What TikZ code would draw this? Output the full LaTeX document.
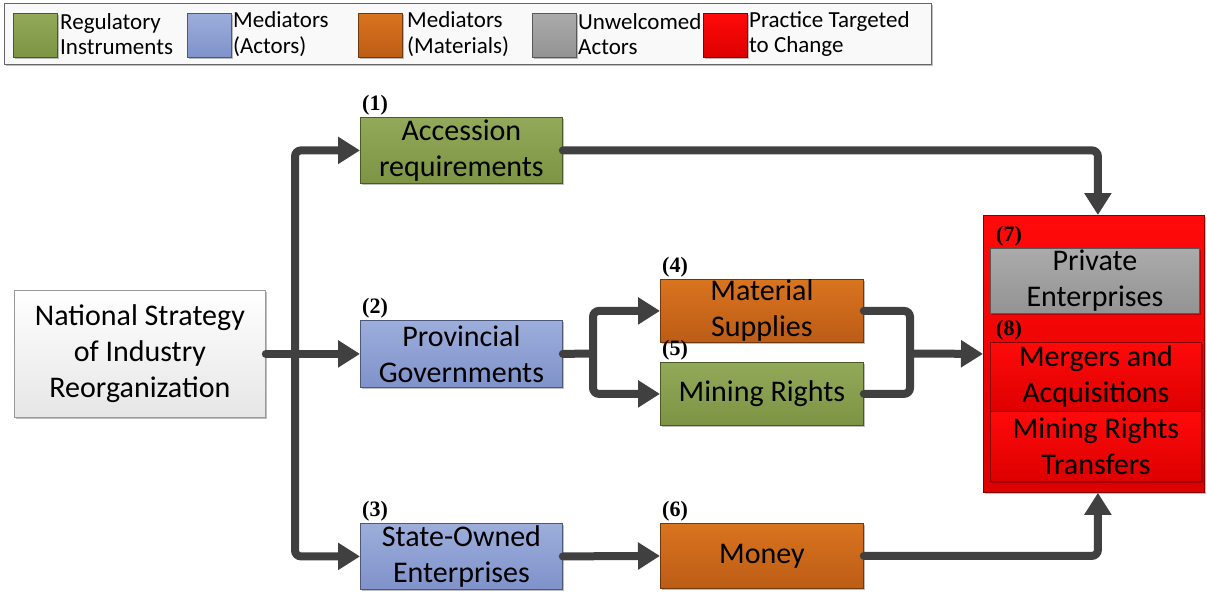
\documentclass[tikz,border=0pt]{standalone}
\usepackage{fontspec}
\setmainfont{Carlito}
\newfontfamily\numfont{Liberation Serif}
\usetikzlibrary{arrows.meta,shadows,positioning}
\definecolor{gtop}{HTML}{93A95A}\definecolor{gbot}{HTML}{7C9443}
\definecolor{btop}{HTML}{9DAEDB}\definecolor{bbot}{HTML}{7F92CA}
\definecolor{otop}{HTML}{D9741F}\definecolor{obot}{HTML}{BC5C16}
\definecolor{ytop}{HTML}{ABABAB}\definecolor{ybot}{HTML}{939393}
\definecolor{rtop}{HTML}{FF0A0A}\definecolor{rbot}{HTML}{DD0000}
\definecolor{wtop}{HTML}{FFFFFF}\definecolor{wbot}{HTML}{E6E6E6}
\definecolor{conncol}{HTML}{404040}
\tikzset{
  shad/.style={drop shadow={shadow xshift=2pt,shadow yshift=-2pt,fill=black,opacity=.25}},
  box/.style={draw=#1!60!black,line width=0.8pt,shad,inner sep=0pt,anchor=north west,align=center,
     font=\fontsize{30}{36}\selectfont},
  greenbox/.style={box=gbot,top color=gtop,bottom color=gbot},
  bluebox/.style={box=bbot,top color=btop,bottom color=bbot},
  orangebox/.style={box=obot,top color=otop,bottom color=obot},
  graybox/.style={box=ybot,top color=ytop,bottom color=ybot},
  redbox/.style={box=rbot,top color=rtop,bottom color=rbot},
  whitebox/.style={draw=gray!80,line width=0.8pt,shad,inner sep=0pt,anchor=north west,align=center,
     top color=wtop,bottom color=wbot,font=\fontsize{30}{36}\selectfont},
  num/.style={font=\numfont\bfseries\fontsize{22}{22}\selectfont,inner sep=0pt,anchor=south west},
  conn/.style={draw=conncol,line width=8pt,line cap=round,rounded corners=6pt,
     -{Triangle[length=22pt,width=26pt]}},
  plain/.style={draw=conncol,line width=8pt,line cap=round,rounded corners=6pt},
  swatch/.style={draw=#1!60!black,line width=0.8pt,shad,anchor=north west,minimum width=44pt,minimum height=44pt,inner sep=0pt},
  legtext/.style={anchor=west,align=left,inner sep=0pt,font=\fontsize{23}{25.5}\selectfont}
}
\begin{document}
\begin{tikzpicture}[x=1pt,y=-1pt]
\useasboundingbox (0,0) rectangle (1207,592);
% legend
\node[draw=gray!80!black,line width=0.8pt,fill=gray!5,shad,anchor=north west,minimum width=927pt,minimum height=61pt,inner sep=0pt] (legend) at (4,3) {};
\node[swatch=gbot,top color=gtop,bottom color=gbot] (s1) at (13,13) {};
\node[swatch=bbot,top color=btop,bottom color=bbot] (s2) at (187,13) {};
\node[swatch=obot,top color=otop,bottom color=obot] (s3) at (358,13) {};
\node[swatch=ybot,top color=ytop,bottom color=ybot] (s4) at (532,13) {};
\node[swatch=rbot,top color=rtop,bottom color=rbot] (s5) at (703,13) {};
\node[legtext] (l1) at (60,34) {Regulatory\\Instruments};
\node[legtext] (l2) at (233,34) {Mediators\\(Actors)};
\node[legtext] (l3) at (407,34) {Mediators\\(Materials)};
\node[legtext] (l4) at (578,34) {Unwelcomed\\Actors};
\node[legtext] (l5) at (749,34) {Practice Targeted\\to Change};
% nodes
\node[whitebox,minimum width=251pt,minimum height=127pt] (nat) at (14,290) {National Strategy\\of Industry\\Reorganization};
\node[greenbox,minimum width=202pt,minimum height=66pt] (acc) at (360,117) {Accession\\requirements};
\node[bluebox,minimum width=202pt,minimum height=67pt] (prov) at (360,320) {Provincial\\Governments};
\node[bluebox,minimum width=202pt,minimum height=66pt] (soe) at (360,523) {State-Owned\\Enterprises};
\node[orangebox,minimum width=203pt,minimum height=63pt] (mat) at (660,279) {Material\\Supplies};
\node[greenbox,minimum width=203pt,minimum height=63pt] (min) at (660,362) {Mining Rights};
\node[orangebox,minimum width=203pt,minimum height=65pt] (mon) at (660,523) {Money};
\node[redbox,minimum width=221pt,minimum height=277pt] (red) at (983,215) {};
\node[graybox,minimum width=209pt,minimum height=65pt] (priv) at (990,248) {Private\\Enterprises};
\node[redbox,minimum width=211pt,minimum height=69pt] (ma) at (990,342) {Mergers and\\Acquisitions};
\node[redbox,minimum width=211pt,minimum height=70pt,drop shadow={opacity=0}] (mrt) at (990,411) {Mining Rights\\Transfers};
% numbers
\node[num] (n1) at ([xshift=2pt,yshift=2pt]acc.north west) {(1)};
\node[num] (n2) at ([xshift=2pt,yshift=2pt]prov.north west) {(2)};
\node[num] (n3) at ([xshift=2pt,yshift=2pt]soe.north west) {(3)};
\node[num] (n4) at ([xshift=2pt,yshift=2pt]mat.north west) {(4)};
\node[num] (n5) at ([xshift=2pt,yshift=2pt]min.north west) {(5)};
\node[num] (n6) at ([xshift=2pt,yshift=2pt]mon.north west) {(6)};
\node[num] (n7) at ([xshift=6pt,yshift=2pt]priv.north west) {(7)};
\node[num] (n8) at ([xshift=6pt,yshift=2pt]ma.north west) {(8)};
% connectors
\coordinate (trunk) at (295,353.5);
\coordinate (br) at (593,353.5);
\coordinate (mg) at (910,353.5);
\draw[conn] (nat.east) -- (prov.west);
\draw[conn] (trunk) |- (acc.west);
\draw[conn] (trunk) |- (soe.west);
\draw[plain] (prov.east) -- (br);
\draw[conn] (br) |- (mat.west);
\draw[conn] (br) |- (min.west);
\draw[plain] (mat.east) -| (mg);
\draw[plain] (min.east) -| (mg);
\draw[conn] (mg) -- (red.west);
\draw[conn] (soe.east) -- (mon.west);
\draw[conn] (acc.east) -| ([xshift=4pt]red.north);
\draw[conn] (mon.east) -| ([xshift=4pt]red.south);
\end{tikzpicture}
\end{document}
